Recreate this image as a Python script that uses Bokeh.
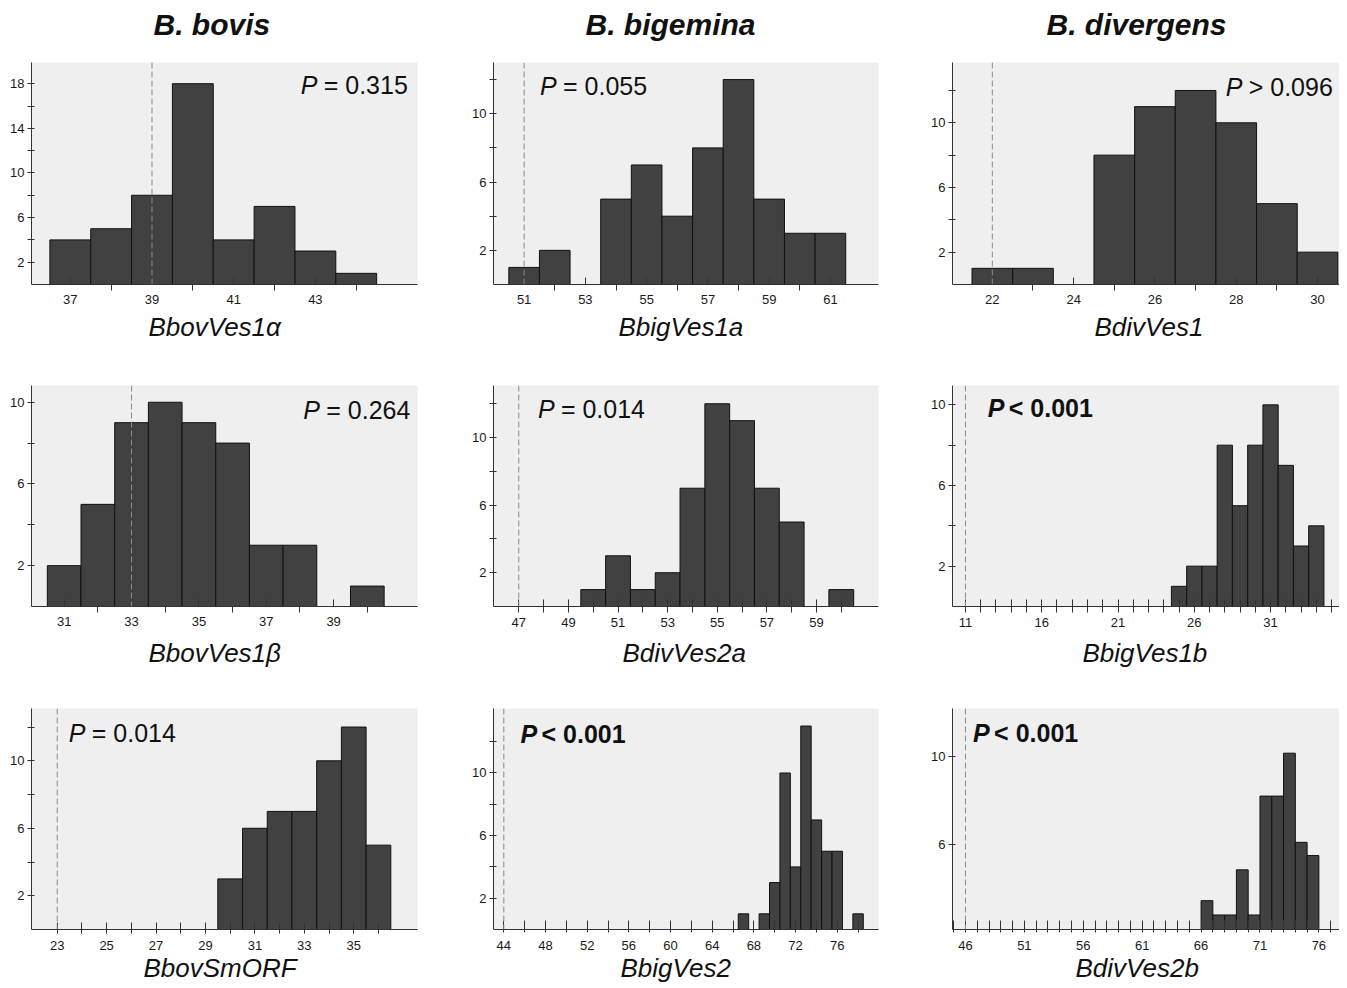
from bokeh.plotting import figure
from bokeh.models import FixedTicker, Span, Label, Title, Range1d
from bokeh.layouts import row, column
from bokeh.embed import file_html
from bokeh.resources import INLINE

FONT = "Liberation Sans"

# ---------------- data ----------------
species = ["B. bovis", "B. bigemina", "B. divergens"]

bbovves1a_bins = [37, 38, 39, 40, 41, 42, 43, 44]
bbovves1a_counts = [4, 5, 8, 18, 4, 7, 3, 1]

bbigves1a_bins = [51, 52, 54, 55, 56, 57, 58, 59, 60, 61]
bbigves1a_counts = [1, 2, 5, 7, 4, 8, 12, 5, 3, 3]

bdivves1_bins = [22, 23, 25, 26, 27, 28, 29, 30]
bdivves1_counts = [1, 1, 8, 11, 12, 10, 5, 2]

bbovves1b_bins = [31, 32, 33, 34, 35, 36, 37, 38, 40]
bbovves1b_counts = [2, 5, 9, 10, 9, 8, 3, 3, 1]

bdivves2a_bins = [50, 51, 52, 53, 54, 55, 56, 57, 58, 60]
bdivves2a_counts = [1, 3, 1, 2, 7, 12, 11, 7, 5, 1]

bbigves1b_bins = [25, 26, 27, 28, 29, 30, 31, 32, 33, 34]
bbigves1b_counts = [1, 2, 2, 8, 5, 8, 10, 7, 3, 4]

bbovsmorf_bins = [30, 31, 32, 33, 34, 35, 36]
bbovsmorf_counts = [3, 6, 7, 7, 10, 12, 5]

bbigves2_bins = [67, 69, 70, 71, 72, 73, 74, 75, 76, 78]
bbigves2_counts = [1, 1, 3, 10, 4, 13, 7, 5, 5, 1]

bdivves2b_bins = [66.5, 67.5, 68.5, 69.5, 70.5, 71.5, 72.5, 73.5, 74.5, 75.5]
bdivves2b_counts = [3.45, 2.8, 2.8, 4.85, 2.8, 8.2, 8.2, 10.15, 6.1, 5.5]

gene_names = ["BbovVes1α", "BbigVes1a", "BdivVes1",
              "BbovVes1β", "BdivVes2a", "BbigVes1b",
              "BbovSmORF", "BbigVes2", "BdivVes2b"]
reference_values = [39, 51, 22, 33, 47, 11, 23, 44, 46]
p_symbols = ["=", "=", ">", "=", "=", "<", "=", "<", "<"]
p_values = ["0.315", "0.055", "0.096", "0.264", "0.014", "0.001", "0.014", "0.001", "0.001"]
p_bold = [False, False, False, False, False, True, False, True, True]

x_major_ticks = [
    [37, 39, 41, 43], [51, 53, 55, 57, 59, 61], [22, 24, 26, 28, 30],
    [31, 33, 35, 37, 39], [47, 49, 51, 53, 55, 57, 59], [11, 16, 21, 26, 31],
    [23, 25, 27, 29, 31, 33, 35], [44, 48, 52, 56, 60, 64, 68, 72, 76],
    [46, 51, 56, 61, 66, 71, 76]]
x_minor_ticks = [
    [38, 40, 42, 44], [52, 54, 56, 58, 60], [23, 25, 27, 29],
    [32, 34, 36, 38, 40], [48, 50, 52, 54, 56, 58, 60],
    [t for t in range(10, 36) if t not in (11, 16, 21, 26, 31)],
    [24, 26, 28, 30, 32, 34, 36], [46, 50, 54, 58, 62, 66, 70, 74, 78],
    [t for t in range(45, 78) if t not in (46, 51, 56, 61, 66, 71, 76)]]
y_major_ticks = [[2, 6, 10, 14, 18], [2, 6, 10], [2, 6, 10],
                 [2, 6, 10], [2, 6, 10], [2, 6, 10],
                 [2, 6, 10], [2, 6, 10], [6, 10]]
y_minor_ticks = [[4, 8, 12, 16], [4, 8, 12], [4, 8, 12],
                 [4, 8], [4, 8, 12], [4, 8],
                 [4, 8, 12], [4, 8, 12], []]

bins_list = [bbovves1a_bins, bbigves1a_bins, bdivves1_bins,
             bbovves1b_bins, bdivves2a_bins, bbigves1b_bins,
             bbovsmorf_bins, bbigves2_bins, bdivves2b_bins]
counts_list = [bbovves1a_counts, bbigves1a_counts, bdivves1_counts,
               bbovves1b_counts, bdivves2a_counts, bbigves1b_counts,
               bbovsmorf_counts, bbigves2_counts, bdivves2b_counts]

# ---------------- layout / style ----------------
x_ranges = [(36.05, 45.5), (50.0, 62.57), (21.02, 30.54),
            (30.03, 41.49), (45.98, 61.5), (10.15, 35.52),
            (21.96, 37.58), (43.01, 79.96), (44.9, 77.75)]
y_ranges = [(0, 19.9), (0, 13.0), (0, 13.73),
            (0, 10.82), (0, 13.08), (0, 10.96),
            (0, 13.1), (0, 14.12), (2.14, 12.18)]
p_text_pos = [(42.64, 17.85), (51.52, 11.6), (27.74, 12.2),
              (38.1, 9.64), (47.77, 11.66), (12.46, 9.82),
              (23.47, 11.63), (45.6, 12.52), (46.65, 11.06)]
# (major_in, major_out, minor_in, minor_out, label_standoff)
x_tick_style = [(7, 0, 0, 6, 4), (7, 0, 0, 6, 4), (7, 0, 0, 6, 4),
                (7, 0, 0, 6, 4), (7, 6, 7, 6, 5), (7, 6, 7, 6, 5),
                (7, 4, 7, 4, 7), (9, 3, 9, 3, 8), (9, 3, 9, 3, 8)]

FW = [386, 385, 387]
ML = [31, 40, 40]
MR = [36, 34, 0]
FH = [222, 221, 221]
MT = [62, 34, 26]
MB = [67, 76, 59]

header_offsets = [122, 92, 94]
sub_offsets = [117, 125, 142, 117, 129, 130, 112, 127, 123]
sub_standoffs = [10, 10, 10, 19, 17, 17, 0, 0, 0]

BAR_FILL = "#414141"
BG = "#efefef"

panels = []
for i in range(9):
    r, c = divmod(i, 3)
    x0, x1 = x_ranges[i]
    y0, y1 = y_ranges[i]
    p = figure(frame_width=FW[c], frame_height=FH[r],
               min_border_left=ML[c], min_border_right=MR[c],
               min_border_top=MT[r], min_border_bottom=MB[r],
               x_range=Range1d(x0, x1), y_range=Range1d(y0, y1),
               toolbar_location=None, output_backend="svg",
               background_fill_color=BG, border_fill_color="white",
               outline_line_color=None, title=None)
    p.grid.visible = False

    p.vbar(x=bins_list[i], width=1, bottom=0, top=counts_list[i],
           fill_color=BAR_FILL, line_color="#111111", line_width=1)

    p.add_layout(Span(location=reference_values[i], dimension="height",
                      line_color="#8a8a8a", line_dash="6 3", line_width=1))

    mi, mo, ni, no, st = x_tick_style[i]
    xa = p.xaxis[0]
    xa.ticker = FixedTicker(ticks=x_major_ticks[i], minor_ticks=x_minor_ticks[i])
    xa.major_tick_in = mi
    xa.major_tick_out = mo
    xa.minor_tick_in = ni
    xa.minor_tick_out = no
    xa.major_label_standoff = st
    ya = p.yaxis[0]
    ya.ticker = FixedTicker(ticks=y_major_ticks[i], minor_ticks=y_minor_ticks[i])
    ya.major_tick_in = 3
    ya.major_tick_out = 4
    ya.minor_tick_in = 3
    ya.minor_tick_out = 4
    ya.major_label_standoff = 3
    for ax in (xa, ya):
        ax.axis_line_color = "#333333"
        ax.major_tick_line_color = "#333333"
        ax.minor_tick_line_color = "#333333"
        ax.major_label_text_font = FONT
        ax.major_label_text_font_size = "13px"
        ax.major_label_text_color = "#1a1a1a"

    bold = p_bold[i]
    px, py = p_text_pos[i]
    p.add_layout(Label(x=px, y=py, text="P", text_font=FONT, text_font_size="25px",
                       text_font_style="bold italic" if bold else "italic",
                       text_baseline="middle", text_align="left", text_color="#111111"))
    p.add_layout(Label(x=px, y=py, x_offset=21 if bold else 23,
                       text=f"{p_symbols[i]} {p_values[i]}", text_font=FONT,
                       text_font_size="25px",
                       text_font_style="bold" if bold else "normal",
                       text_baseline="middle", text_align="left", text_color="#111111"))

    p.add_layout(Title(text=gene_names[i], align="left", offset=sub_offsets[i],
                       vertical_align="top", text_font=FONT, text_font_size="26px",
                       text_font_style="italic", text_color="#111111",
                       standoff=sub_standoffs[i]), "below")
    if r == 0:
        # blank spacer between the frame and the species heading
        p.add_layout(Title(text=" ", text_font=FONT, text_font_size="18px",
                           standoff=0), "above")
        p.add_layout(Title(text=species[c], align="left", offset=header_offsets[c],
                           text_font=FONT, text_font_size="30px",
                           text_font_style="bold italic", text_color="#111111",
                           standoff=0), "above")
    panels.append(p)

layout = column(row(*panels[0:3]), row(*panels[3:6]), row(*panels[6:9]))

open("out.html", "w").write(file_html(layout, INLINE))
